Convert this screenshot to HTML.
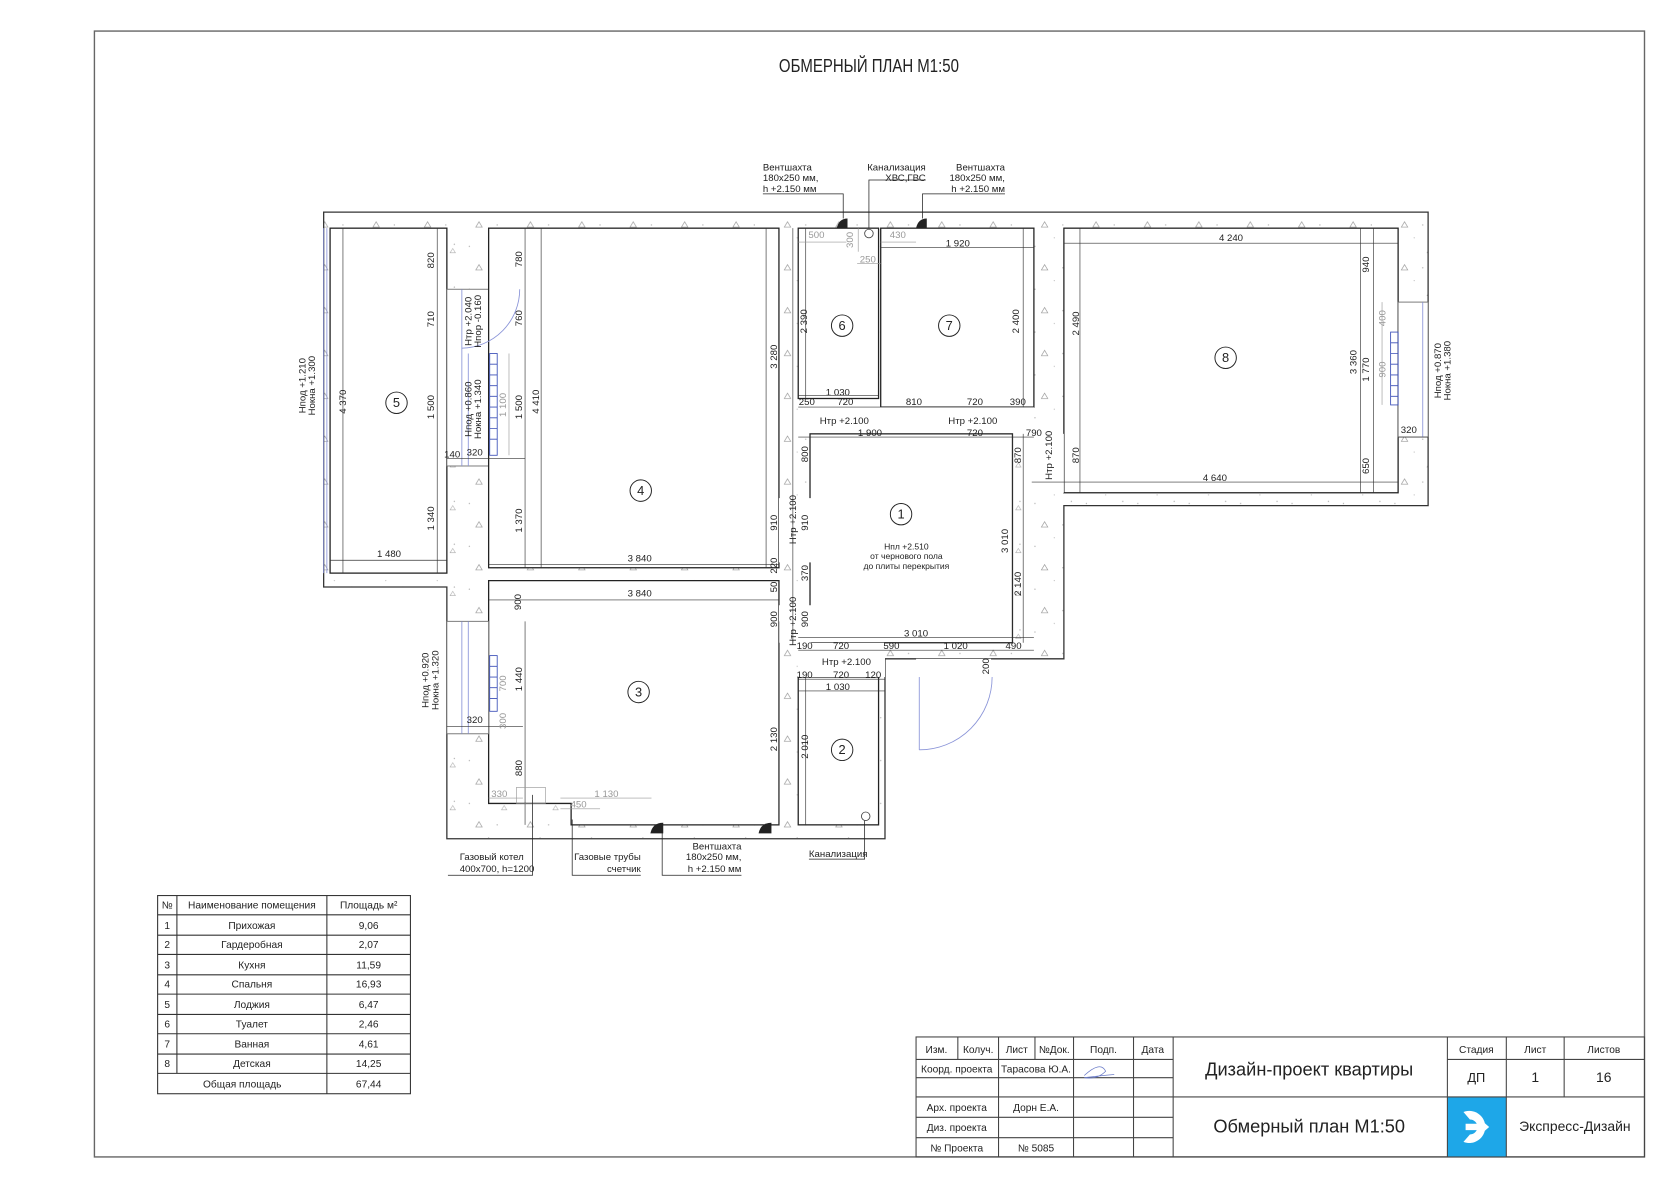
<!DOCTYPE html>
<html><head><meta charset="utf-8"><style>
html,body{margin:0;padding:0;background:#fff;}
svg{display:block;}
text{font-family:"Liberation Sans Narrow","Liberation Sans",sans-serif;fill:#222;}
.d{font-size:9px;}
.g{fill:#999;}
.t{font-size:9.5px;}
</style></head><body>
<svg width="1680" height="1188" viewBox="0 0 1568 1109" xmlns="http://www.w3.org/2000/svg">
<defs>
<pattern id="h" width="48" height="40" patternUnits="userSpaceOnUse">
<path d="M12 12 l3 -5 l3 5 z" fill="none" stroke="#999" stroke-width="0.6"/>
<circle cx="32" cy="10" r="0.6" fill="#aaa"/><circle cx="40" cy="28" r="0.6" fill="#aaa"/><circle cx="6" cy="30" r="0.6" fill="#aaa"/><circle cx="24" cy="22" r="0.5" fill="#aaa"/>
<path d="M36 36 l2.5 -4 l2.5 4 z" fill="none" stroke="#aaa" stroke-width="0.5"/>
</pattern>
</defs>
<rect x="0" y="0" width="1568" height="1109" fill="#fff"/>
<rect x="88" y="29" width="1447" height="1051" fill="none" stroke="#666" stroke-width="1.3"/>
<text x="727" y="67" textLength="168" lengthAdjust="spacingAndGlyphs" style="font-size:17px">ОБМЕРНЫЙ ПЛАН М1:50</text>

<path d="M302 198 H1333 V472 H993 V615 H826 V783 H417 V548 H302 Z" fill="url(#h)" stroke="#333" stroke-width="1.2"/>
<g fill="#fff" stroke="#222" stroke-width="1.2">
<rect x="308" y="213" width="109" height="322"/>
<rect x="417" y="270" width="39" height="165" stroke="#666" stroke-width="0.8"/>
<rect x="456" y="213" width="271" height="317"/>
<path d="M456 542 H727 V770 H533 V750 H456 Z"/>
<rect x="417" y="580" width="39" height="105" stroke="#666" stroke-width="0.8"/>
<rect x="745" y="213" width="75" height="159"/>
<rect x="822" y="213" width="143" height="167"/>
<rect x="993" y="213" width="312" height="247"/>
<rect x="745" y="380" width="220" height="25" stroke="none"/>
<rect x="756" y="405" width="189" height="195"/>
<rect x="727" y="465" width="30" height="60" stroke="none"/>
<rect x="727" y="565" width="30" height="35" stroke="none"/>
<rect x="745" y="632" width="75" height="138"/>
<rect x="745" y="600" width="81" height="32" stroke="none"/>
<rect x="965" y="405" width="28" height="55" stroke="none"/>
<rect x="1305" y="282" width="28" height="126" stroke="#666" stroke-width="0.8"/>
<rect x="855" y="615" width="70" height="20" stroke="none"/>
</g>
<g stroke="#8a94d8" stroke-width="0.8" fill="none">
<line x1="302" y1="213" x2="302" y2="535"/><line x1="305" y1="213" x2="305" y2="535"/>
<line x1="431" y1="270" x2="431" y2="435"/><line x1="437" y1="330" x2="437" y2="435"/>
<line x1="431" y1="580" x2="431" y2="685"/><line x1="437" y1="580" x2="437" y2="685"/>
<line x1="1328" y1="282" x2="1328" y2="408"/>
<path d="M485 270 A55 55 0 0 1 431 325"/>
<path d="M858 700 A68 68 0 0 0 926 632"/>
<line x1="858" y1="632" x2="858" y2="700"/>
</g>
<g stroke="#3b4fb8" stroke-width="0.8" fill="none">
<rect x="457" y="330" width="7" height="95"/>
<rect x="457" y="612" width="7" height="52"/>
<rect x="1298" y="310" width="7" height="68"/>
<path d="M457 340 h7 M457 350 h7 M457 360 h7 M457 370 h7 M457 380 h7 M457 390 h7 M457 400 h7 M457 410 h7 M457 622 h7 M457 632 h7 M457 642 h7 M457 652 h7 M1298 320 h7 M1298 330 h7 M1298 340 h7 M1298 350 h7 M1298 360 h7 M1298 370 h7"/>
</g>
<g stroke="#333" stroke-width="0.6" fill="none">
<line x1="320" y1="213" x2="320" y2="535"/><line x1="308" y1="523" x2="417" y2="523"/>
<line x1="408" y1="213" x2="408" y2="535"/><line x1="490" y1="213" x2="490" y2="530"/><line x1="505" y1="213" x2="505" y2="530"/>
<line x1="456" y1="527" x2="727" y2="527"/><line x1="456" y1="560" x2="727" y2="560"/>
<line x1="715" y1="213" x2="715" y2="530"/><line x1="740" y1="213" x2="740" y2="600"/>
<line x1="752" y1="213" x2="752" y2="372"/><line x1="745" y1="369" x2="820" y2="369"/><line x1="745" y1="380" x2="965" y2="380"/>
<line x1="745" y1="408" x2="965" y2="408"/><line x1="822" y1="231" x2="965" y2="231"/><line x1="955" y1="213" x2="955" y2="380"/>
<line x1="1008" y1="213" x2="1008" y2="460"/><line x1="993" y1="227" x2="1305" y2="227"/><line x1="963" y1="450" x2="1305" y2="450"/>
<line x1="1270" y1="213" x2="1270" y2="460"/><line x1="1282" y1="213" x2="1282" y2="460"/>
<line x1="945" y1="405" x2="945" y2="600"/><line x1="955" y1="405" x2="955" y2="600"/>
<line x1="745" y1="595" x2="965" y2="595"/><line x1="745" y1="607" x2="965" y2="607"/><line x1="745" y1="634" x2="826" y2="634"/><line x1="745" y1="645" x2="826" y2="645"/>
<line x1="727" y1="580" x2="727" y2="770"/><line x1="752" y1="632" x2="752" y2="770"/>
<line x1="490" y1="580" x2="490" y2="770"/><line x1="417" y1="428" x2="490" y2="428"/><line x1="417" y1="678" x2="488" y2="678"/>
<line x1="1305" y1="408" x2="1333" y2="408"/>
</g>
<g stroke="#999" stroke-width="0.6" fill="none">
<line x1="745" y1="226" x2="790" y2="226"/><line x1="822" y1="226" x2="855" y2="226"/><line x1="800" y1="246" x2="822" y2="246"/><line x1="801" y1="213" x2="801" y2="235"/>
<line x1="475" y1="330" x2="475" y2="425"/><line x1="1290" y1="282" x2="1290" y2="378"/>
<line x1="456" y1="745" x2="488" y2="745"/><line x1="523" y1="745" x2="608" y2="745"/><line x1="523" y1="755" x2="560" y2="755"/>
<rect x="482" y="735" width="27" height="15"/>
</g>
<g fill="#222">
<path d="M781 213 h10 v-9 q-8 0 -10 9z"/><path d="M855 213 h10 v-9 q-8 0 -10 9z"/>
<path d="M607 778 h12 v-10 q-10 0 -12 10z"/><path d="M708 778 h12 v-10 q-10 0 -12 10z"/>
</g>
<circle cx="811" cy="218" r="4" fill="none" stroke="#444" stroke-width="0.8"/>
<circle cx="808" cy="762" r="4" fill="none" stroke="#444" stroke-width="0.8"/>
<g fill="none" stroke="#222" stroke-width="0.9">
<circle cx="841" cy="480" r="10"/><circle cx="786" cy="700" r="10"/><circle cx="596" cy="646" r="10"/><circle cx="598" cy="458" r="10"/>
<circle cx="370" cy="376" r="10"/><circle cx="786" cy="304" r="10"/><circle cx="886" cy="304" r="10"/><circle cx="1144" cy="334" r="10"/>
</g>
<g style="font-size:12px" text-anchor="middle">
<text x="841" y="484">1</text><text x="786" y="704">2</text><text x="596" y="650">3</text><text x="598" y="462">4</text>
<text x="370" y="380">5</text><text x="786" y="308">6</text><text x="886" y="308">7</text><text x="1144" y="338">8</text>
</g>
<g class="d" text-anchor="middle">
<text x="363" y="520">1 480</text><text x="597" y="524">3 840</text><text x="597" y="557">3 840</text>
<text x="894" y="230">1 920</text><text x="1149" y="225">4 240</text><text x="1134" y="449">4 640</text>
<text x="782" y="369">1 030</text><text x="789" y="378">720</text><text x="753" y="378">250</text><text x="853" y="378">810</text><text x="910" y="378">720</text><text x="950" y="378">390</text>
<text x="812" y="407">1 900</text><text x="910" y="407">720</text><text x="965" y="407">790</text>
<text x="855" y="594">3 010</text><text x="751" y="606">190</text><text x="785" y="606">720</text><text x="832" y="606">590</text><text x="892" y="606">1 020</text><text x="946" y="606">490</text>
<text x="785" y="633">720</text><text x="782" y="644">1 030</text><text x="751" y="633">190</text><text x="815" y="633">120</text>
<text x="443" y="425">320</text><text x="422" y="427">140</text><text x="443" y="675">320</text><text x="1315" y="404">320</text>
<text x="788" y="396">Hтр +2.100</text><text x="908" y="396">Hтр +2.100</text><text x="790" y="621">Hтр +2.100</text>
<text x="466" y="744" class="g">330</text><text x="566" y="744" class="g">1 130</text><text x="540" y="754" class="g">450</text>
<text x="762" y="222" class="g">500</text><text x="838" y="222" class="g">430</text><text x="810" y="245" class="g">250</text>
<text x="846" y="513" style="font-size:8px">Hпл +2.510</text><text x="846" y="522" style="font-size:8px">от чернового пола</text><text x="846" y="531" style="font-size:8px">до плиты перекрытия</text>
</g>
<g class="d" text-anchor="middle">
<text transform="translate(323,375) rotate(-90)">4 370</text>
<text transform="translate(405,243) rotate(-90)">820</text><text transform="translate(405,298) rotate(-90)">710</text><text transform="translate(405,380) rotate(-90)">1 500</text><text transform="translate(405,484) rotate(-90)">1 340</text>
<text transform="translate(487,242) rotate(-90)">780</text><text transform="translate(487,297) rotate(-90)">760</text><text transform="translate(487,380) rotate(-90)">1 500</text><text transform="translate(487,486) rotate(-90)">1 370</text><text transform="translate(503,375) rotate(-90)">4 410</text>
<text transform="translate(725,333) rotate(-90)">3 280</text><text transform="translate(753,300) rotate(-90)">2 390</text><text transform="translate(754,424) rotate(-90)">800</text>
<text transform="translate(725,488) rotate(-90)">910</text><text transform="translate(754,488) rotate(-90)">910</text><text transform="translate(743,485) rotate(-90)">Hтр +2.100</text>
<text transform="translate(725,528) rotate(-90)">220</text><text transform="translate(725,548) rotate(-90)">50</text><text transform="translate(754,535) rotate(-90)">370</text>
<text transform="translate(486,562) rotate(-90)">900</text><text transform="translate(725,578) rotate(-90)">900</text><text transform="translate(754,578) rotate(-90)">900</text><text transform="translate(743,580) rotate(-90)">Hтр +2.100</text>
<text transform="translate(487,634) rotate(-90)">1 440</text><text transform="translate(487,717) rotate(-90)">880</text>
<text transform="translate(725,690) rotate(-90)">2 130</text><text transform="translate(754,697) rotate(-90)">2 010</text>
<text transform="translate(951,300) rotate(-90)">2 400</text><text transform="translate(1007,302) rotate(-90)">2 490</text>
<text transform="translate(953,425) rotate(-90)">870</text><text transform="translate(1007,425) rotate(-90)">870</text><text transform="translate(982,425) rotate(-90)">Hтр +2.100</text>
<text transform="translate(941,505) rotate(-90)">3 010</text><text transform="translate(953,545) rotate(-90)">2 140</text>
<text transform="translate(1278,247) rotate(-90)">940</text><text transform="translate(1266,338) rotate(-90)">3 360</text><text transform="translate(1278,345) rotate(-90)">1 770</text><text transform="translate(1278,435) rotate(-90)">650</text>
<text transform="translate(923,622) rotate(-90)">200</text>
<text transform="translate(796,224) rotate(-90)" class="g">300</text>
<text transform="translate(472,378) rotate(-90)" class="g">1 100</text><text transform="translate(1293,345) rotate(-90)" class="g">900</text><text transform="translate(1293,297) rotate(-90)" class="g">400</text>
<text transform="translate(472,638) rotate(-90)" class="g">700</text><text transform="translate(472,673) rotate(-90)" class="g">300</text>
<text transform="translate(440,300) rotate(-90)">Hтр +2.040</text><text transform="translate(449,300) rotate(-90)">Hпор -0.160</text>
<text transform="translate(440,382) rotate(-90)">Hпод +0.860</text><text transform="translate(449,382) rotate(-90)">Hокна +1.340</text>
<text transform="translate(285,360) rotate(-90)">Hпод +1.210</text><text transform="translate(294,360) rotate(-90)">Hокна +1.300</text>
<text transform="translate(400,635) rotate(-90)">Hпод +0.920</text><text transform="translate(409,635) rotate(-90)">Hокна +1.320</text>
<text transform="translate(1345,346) rotate(-90)">Hпод +0.870</text><text transform="translate(1354,346) rotate(-90)">Hокна +1.380</text>
</g>
<g stroke="#222" stroke-width="0.7" fill="none">
<polyline points="712,181 787,181 787,204"/><polyline points="811,213 811,168 864,168"/><polyline points="938,181 861,181 861,204"/>
<polyline points="418,817 497,817 497,742"/><polyline points="598,817 534,817 534,765"/><polyline points="692,817 618,817 618,775"/><polyline points="755,802 807,802 807,766"/>
</g>
<g class="d">
<text x="712" y="159">Вентшахта</text><text x="712" y="169">180x250 мм,</text><text x="712" y="179">h +2.150 мм</text>
<text x="864" y="159" text-anchor="end">Канализация</text><text x="864" y="169" text-anchor="end">ХВС,ГВС</text>
<text x="938" y="159" text-anchor="end">Вентшахта</text><text x="938" y="169" text-anchor="end">180x250 мм,</text><text x="938" y="179" text-anchor="end">h +2.150 мм</text>
<text x="429" y="803">Газовый котел</text><text x="429" y="814">400x700, h=1200</text>
<text x="598" y="803" text-anchor="end">Газовые трубы</text><text x="598" y="814" text-anchor="end">счетчик</text>
<text x="692" y="793" text-anchor="end">Вентшахта</text><text x="692" y="803" text-anchor="end">180x250 мм,</text><text x="692" y="814" text-anchor="end">h +2.150 мм</text>
<text x="755" y="800">Канализация</text>
</g>
<g stroke="#333" stroke-width="1" fill="none">
<rect x="147" y="836" width="236" height="185"/>
<line x1="165" y1="836" x2="165" y2="1002"/><line x1="305" y1="836" x2="305" y2="1021"/>
<path d="M147 854H383M147 873H383M147 891H383M147 910H383M147 928H383M147 947H383M147 965H383M147 984H383M147 1002H383"/>
</g>
<g class="t" text-anchor="middle">
<text x="156" y="848">№</text><text x="235" y="848">Наименование помещения</text><text x="344" y="848">Площадь м²</text>
<text x="156" y="867">1</text><text x="235" y="867">Прихожая</text><text x="344" y="867">9,06</text>
<text x="156" y="885">2</text><text x="235" y="885">Гардеробная</text><text x="344" y="885">2,07</text>
<text x="156" y="904">3</text><text x="235" y="904">Кухня</text><text x="344" y="904">11,59</text>
<text x="156" y="922">4</text><text x="235" y="922">Спальня</text><text x="344" y="922">16,93</text>
<text x="156" y="941">5</text><text x="235" y="941">Лоджия</text><text x="344" y="941">6,47</text>
<text x="156" y="959">6</text><text x="235" y="959">Туалет</text><text x="344" y="959">2,46</text>
<text x="156" y="978">7</text><text x="235" y="978">Ванная</text><text x="344" y="978">4,61</text>
<text x="156" y="996">8</text><text x="235" y="996">Детская</text><text x="344" y="996">14,25</text>
<text x="226" y="1015">Общая площадь</text><text x="344" y="1015">67,44</text>
</g>
<rect x="1351" y="1024" width="55" height="56" fill="#1ea7e8"/>
<g stroke="#444" stroke-width="1" fill="none">
<rect x="855" y="968" width="680" height="112"/>
<path d="M894 968V989M932 968V1080M966 968V989M1002 968V1080M1058 968V1080M1095 968V1080"/>
<path d="M855 989H1095M855 1006H1095M855 1024H1535M855 1043H1095M855 1062H1095"/>
<path d="M1351 968V1080M1406 968V1080M1460 968V1024M1351 989H1535"/>
</g>
<path d="M1366 1038 a15 15 0 1 1 0 28 l6 -7 a7 7 0 1 0 0 -14 z M1368 1049 h14 v-4 l8 7 l-8 7 v-4 h-14 z" fill="#fff"/>
<path d="M1012 1004 q15 -14 20 -4 q-8 8 -20 6 q15 -2 28 -3" stroke="#6b7cc8" stroke-width="0.7" fill="none"/>
<g class="t" text-anchor="middle">
<text x="874" y="983">Изм.</text><text x="913" y="983">Колуч.</text><text x="949" y="983">Лист</text><text x="984" y="983">№Док.</text><text x="1030" y="983">Подп.</text><text x="1076" y="983">Дата</text>
<text x="893" y="1001">Коорд. проекта</text><text x="967" y="1001">Тарасова Ю.А.</text>
<text x="893" y="1037">Арх. проекта</text><text x="967" y="1037">Дорн Е.А.</text>
<text x="893" y="1056">Диз. проекта</text>
<text x="893" y="1075">№ Проекта</text><text x="967" y="1075">№ 5085</text>
<text x="1378" y="983">Стадия</text><text x="1433" y="983">Лист</text><text x="1497" y="983">Листов</text>
<text x="1378" y="1010" style="font-size:12px">ДП</text><text x="1433" y="1010" style="font-size:13px">1</text><text x="1497" y="1010" style="font-size:13px">16</text>
<text x="1222" y="1004" style="font-size:17px">Дизайн-проект квартиры</text>
<text x="1222" y="1057" style="font-size:17px">Обмерный план М1:50</text>
<text x="1470" y="1056" style="font-size:13px">Экспресс-Дизайн</text>
</g>
</svg>
</body></html>
